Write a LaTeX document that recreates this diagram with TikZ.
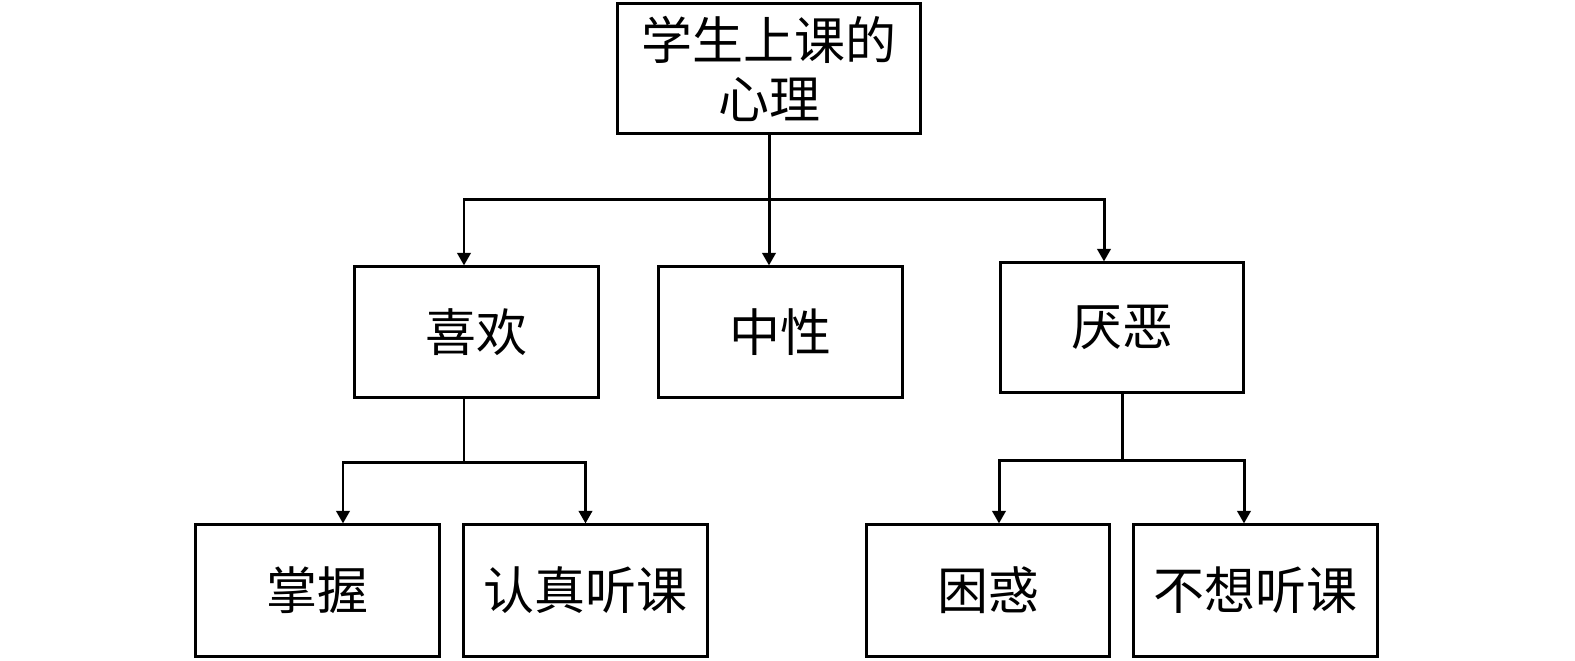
\documentclass[tikz,border=0pt]{standalone}
\usepackage{fontspec}
\newfontfamily\cjk{Noto Sans CJK SC}
\usepackage{tikz}
\usetikzlibrary{arrows.meta}
\usetikzlibrary{calc}

\begin{document}
\begin{tikzpicture}[x=0.01cm,y=-0.01cm,
    box/.style={draw,line width=0.85pt,inner sep=0pt,align=center,
        minimum width=2.43cm,minimum height=1.30cm,
        font=\cjk\fontsize{14.5pt}{16.8pt}\selectfont},
    link/.style={line width=0.85pt},
    arr/.style={line width=0.85pt,-{Triangle[length=3.6pt,width=3.8pt]}}
    ]
\useasboundingbox (0,0) rectangle (1575,661);

% top
\node[box,minimum width=3.02cm,minimum height=1.29cm] (top) at (769,68.5) {学生上课的\\心理};

% second row
\node[box] (like) at (476.5,332) {喜欢};
\node[box] (neutral) at (780.5,332) {中性};
\node[box,minimum height=1.29cm] (dislike) at (1122,327.5) {厌恶};

% third row
\node[box,minimum height=1.31cm] (grasp) at (317.5,590.5) {掌握};
\node[box,minimum height=1.31cm] (listen) at (585.5,590.5) {认真听课};
\node[box,minimum height=1.31cm] (confused) at (988,590.5) {困惑};
\node[box,minimum height=1.31cm] (nolisten) at (1255.5,590.5) {不想听课};

\draw[arr] (top.south) -- ++(0,65) -| ($(like.north)+(-12.5,0)$);
\draw[arr] (top.south) -- (top.south |- neutral.north);
\draw[arr] (top.south) -- ++(0,65) -| ($(dislike.north)+(-18,0)$);

\draw[arr] ($(like.south)+(-12.5,0)$) -- ++(0,64) -| ($(grasp.north)+(25.5,0)$);
\draw[arr] ($(like.south)+(-12.5,0)$) -- ++(0,64) -| (listen.north);

\draw[arr] (dislike.south) -- ++(0,67) -| ($(confused.north)+(11,0)$);
\draw[arr] (dislike.south) -- ++(0,67) -| ($(nolisten.north)+(-11.5,0)$);

\end{tikzpicture}
\end{document}
